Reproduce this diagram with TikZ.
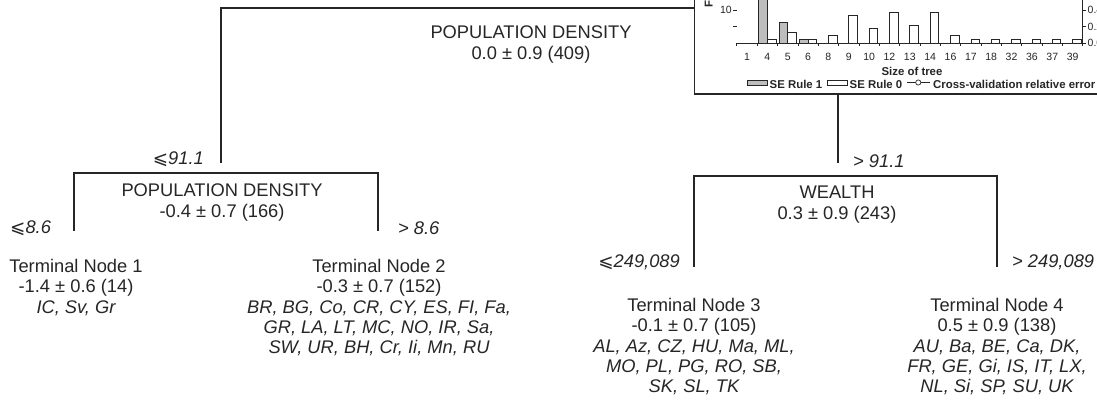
\documentclass[tikz,border=0pt]{standalone}
\usepackage{fontspec}
\setmainfont{Liberation Sans}
\newfontfamily\symfont{DejaVu Sans}
\newcommand{\leqsym}{{\upshape\symfont ⩽}}
\definecolor{ink}{HTML}{262626}
\definecolor{bargrey}{HTML}{BDBDBD}
\begin{document}
\begin{tikzpicture}[x=1pt,y=-1pt,
  txt/.style={font=\fontsize{18.3}{20.3}\selectfont, text=ink, inner sep=0pt, align=center, anchor=north},
  lbl/.style={font=\fontsize{18.3}{22}\selectfont\itshape, text=ink, inner sep=0pt},
  branch/.style={draw=ink, line width=1.1pt},
  tiny/.style={font=\fontsize{10.5}{12}\selectfont, text=ink, inner sep=0pt},
  tinyb/.style={font=\fontsize{11.4}{13}\selectfont\bfseries, text=ink, inner sep=0pt},
  gbar/.style={draw=ink, line width=0.7pt, fill=bargrey},
  wbar/.style={draw=ink, line width=0.7pt, fill=white},
  axisline/.style={draw=ink, line width=0.7pt}]
\useasboundingbox (0,0) rectangle (1097,408);
\fill[white] (0,0) rectangle (1097,408);

% ---------- tree coordinates ----------
\coordinate (rL) at (221,8);   \coordinate (rR) at (838,8);
\coordinate (rLe) at (221,163); \coordinate (rRe) at (838,163);
\coordinate (lTL) at (74,173);  \coordinate (lTR) at (378,173);
\coordinate (lBL) at (74,231);  \coordinate (lBR) at (378,231);
\coordinate (wTL) at (694,176); \coordinate (wTR) at (997,176);
\coordinate (wBL) at (694,267); \coordinate (wBR) at (997,267);
\coordinate (inB) at (838,94);

% root bracket
\draw[branch] (rLe) -- (rL) -- (rR) -- (rRe);
% left child bracket
\draw[branch] (lBL) -- (lTL) -- (lTR) -- (lBR);
% right child bracket
\draw[branch] (wBL) -- (wTL) -- (wTR) -- (wBR);

% ---------- tree texts ----------
\node[txt] (root) at (531,26) {POPULATION DENSITY\\0.0 ± 0.9 (409)};
\node[txt] (lc) at (222,184) {POPULATION DENSITY\\-0.4 ± 0.7 (166)};
\node[txt] (rc) at (837,186) {WEALTH\\0.3 ± 0.9 (243)};

\node[lbl, anchor=east] (l1) at (204,159) {\leqsym 91.1};
\node[lbl, anchor=west] (l2) at (853,161) {> 91.1};
\node[lbl, anchor=west] (l3) at (10,228) {\leqsym 8.6};
\node[lbl, anchor=west] (l4) at (398,228) {> 8.6};
\node[lbl, anchor=east] (l5) at (680,262) {\leqsym 249,089};
\node[lbl, anchor=west] (l6) at (1012,262) {> 249,089};

\node[txt] (tn1) at (76,259) {Terminal Node 1\\-1.4 ± 0.6 (14)\\\itshape IC, Sv, Gr};
\node[txt] (tn2) at (379,259) {Terminal Node 2\\-0.3 ± 0.7 (152)\\\itshape BR, BG, Co, CR, CY, ES, FI, Fa,\\\itshape GR, LA, LT, MC, NO, IR, Sa,\\\itshape SW, UR, BH, Cr, Ii, Mn, RU};
\node[txt] (tn3) at (694,298) {Terminal Node 3\\-0.1 ± 0.7 (105)\\\itshape AL, Az, CZ, HU, Ma, ML,\\\itshape MO, PL, PG, RO, SB,\\\itshape SK, SL, TK};
\node[txt] (tn4) at (997,298) {Terminal Node 4\\0.5 ± 0.9 (138)\\\itshape AU, Ba, BE, Ca, DK,\\\itshape FR, GE, Gi, IS, IT, LX,\\\itshape NL, Si, SP, SU, UK};

% ---------- inset chart ----------
\fill[white] (694,0) rectangle (1097,94);
\begin{scope}
\clip (694,0) rectangle (1097,95);
\node[tinyb, rotate=90, anchor=west] (ylab) at (710,8) {Frequency};
% left axis ticks
\node[tiny, anchor=east] (y10) at (732,10) {10};
\draw[axisline] (733,10) -- (736.5,10);
\draw[axisline] (733,26.5) -- (736.5,26.5);
% bars
\draw[gbar] (758.5,-5) rectangle (767.35,43);
\foreach \xa/\xb/\t in {778.9/787.7/22.7, 799.2/808.05/39}
  \draw[gbar] (\xa,\t) rectangle (\xb,43);
\foreach \xa/\t in {767.35/39, 787.7/32.3, 808.05/39, 828.4/35.3, 848.75/15.7, 869.1/28.3, 889.45/12.7, 909.8/25, 930.15/12.7, 950.5/35.3, 970.85/39, 991.2/39, 1011.55/39, 1031.9/39, 1052.25/39, 1072.6/39}
  \draw[wbar] (\xa,\t) rectangle ({\xa+8.5},43);
% x axis
\draw[axisline] (736.5,43) -- (1082,43);
\foreach \i in {0,...,17}
  \draw[axisline] ({736.8+20.35*\i},43) -- ({736.8+20.35*\i},45.5);
\foreach \lab [count=\k from 0] in {1,4,5,6,8,9,10,12,13,14,16,17,18,32,36,37,39}
  \node[tiny] (xl\k) at ({747+20.35*\k},56.5) {\lab};
% right axis
\draw[axisline] (1082,0) -- (1082,43);
\foreach \yy/\v [count=\k] in {43/0.0, 26.5/0.2, 10/0.4}{
  \draw[axisline] (1082,\yy) -- (1085.5,\yy);
  \node[tiny, anchor=west] (ry\k) at (1087.5,\yy) {\v};
}
\node[tinyb] (xt) at (912,71) {Size of tree};
% legend
\fill[white] (740,75.5) rectangle (1097,92);
\draw[gbar] (747,80.5) rectangle (767,85);
\node[tinyb, anchor=west] (lg1) at (769.5,84.5) {SE Rule 1};
\draw[wbar] (827,80.5) rectangle (847,85);
\node[tinyb, anchor=west] (lg2) at (849.5,84.5) {SE Rule 0};
\coordinate (cvA) at (907,82.5); \coordinate (cvB) at (929.5,82.5);
\draw[axisline] (cvA) -- (cvB);
\draw[axisline, fill=white] (918.25,82.5) circle (2.6);
\node[tinyb, anchor=west] (lg3) at (933,84.5) {Cross-validation relative error};
\end{scope}
% inset frame
\draw[draw=ink, line width=1pt] (694,0) -- (694,94);
\draw[draw=ink, line width=1.8pt] (693.5,94) -- (1097,94);
% right leg of root below inset
\draw[branch] (inB) -- (rRe);
\end{tikzpicture}
\end{document}
